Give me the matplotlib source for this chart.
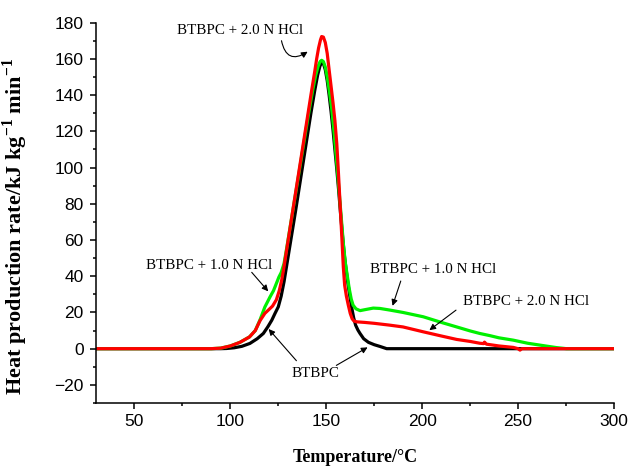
import matplotlib
matplotlib.use("Agg")
import matplotlib.pyplot as plt

# Temperature (degC) and heat production rate (kJ kg-1 min-1)
t_black = [30, 95, 98, 102, 106, 110.2, 114, 117.2, 119.5, 121.6, 123.3, 125, 126.5, 128, 130,
           132, 134, 136, 138, 140, 142, 144, 145.5, 146.7, 147.6, 148.5, 149.5, 150.5, 151.5,
           152.5, 153.5, 154.5, 155.5, 156.5, 157.5, 158.5, 159.5, 160.3, 161.3, 162.3, 163.3,
           164.3, 165.3, 166.5, 167.6, 169.5, 172, 175, 178.1, 181.5, 300]
v_black = [0, 0, 0.1, 0.5, 1.3, 2.9, 5.5, 8.4, 12, 15.7, 19.5, 23.1, 29, 37, 50,
           63, 76, 89.5, 103, 116.5, 130, 142.5, 151, 156, 158, 157.5, 154, 148, 140,
           131, 121, 110, 99, 87, 74, 62, 51, 44, 36, 29, 22.5,
           17, 13, 10.3, 8.4, 5.5, 3.5, 2.2, 1.2, 0, 0]

t_green = [30, 90, 95, 100, 105, 110, 113, 115.5, 118, 120.7, 122.5, 124, 125.3, 126.5, 128,
           129.3, 131, 133, 135, 137, 139, 141, 143, 144.5, 145.8, 146.8, 147.6, 148.5, 149.5,
           150.5, 151.5, 152.8, 154, 155, 156, 157, 158, 159, 160, 161, 162, 163, 164, 165.5,
           167.6, 170, 174.5, 178, 183.2, 190, 200.6, 210, 218, 225, 230, 235.3, 240,
           247.5, 255, 264.9, 270, 275.3, 300]
v_green = [0, 0, 0.3, 1.5, 3.5, 6.5, 10, 16, 23, 28.6, 32, 36, 39.5, 42, 47,
           55, 66, 79, 92, 105, 118, 131, 143, 151, 156, 158.5, 159.2, 158.5, 155.5,
           150, 143, 133, 120, 108, 96, 83, 70, 57, 47, 40, 33, 27.5, 24, 22,
           21, 21.5, 22.4, 22.2, 21.3, 20, 17.6, 14.5, 12, 9.8, 8.4, 7.2, 6,
           4.7, 3, 1.4, 0.6, 0, 0]

t_red = [30, 90, 95, 100, 105, 110, 113, 115.5, 118, 120, 122, 124, 125.5, 126.8, 127.8,
         130, 132, 134, 136, 138, 140, 142, 144, 145, 146, 147, 147.6, 148.5, 149.5, 150.5,
         151.6, 152.5, 153.5, 154.5, 155.5, 156.2, 157, 158, 158.9, 159.6, 160.5, 161.5,
         162.5, 163.5, 164.5, 166, 170, 175, 183, 190, 200.6, 210, 218, 225, 230, 232,
         232.5, 233.5, 240, 247.5, 250, 251, 252, 300]
v_red = [0, 0, 0.3, 1.5, 3.5, 6.5, 10, 15.5, 19.5, 21.5, 23.5, 27, 32, 38, 44,
         59, 72.5, 86, 99.5, 113, 126.5, 140, 153, 160, 166, 170.5, 172.3, 172, 169, 163,
         153, 145, 136, 126, 113, 100, 84, 64, 45, 35, 29, 24,
         19.5, 16.5, 15.2, 14.8, 14.5, 14, 13, 12, 9.3, 7, 5.1, 4, 3, 2.8,
         3.6, 2.5, 1.5, 0.7, 0, -0.8, 0, 0]

plt.rcParams['mathtext.fontset'] = 'custom'
plt.rcParams['mathtext.rm'] = 'Liberation Serif'
plt.rcParams['mathtext.bf'] = 'Liberation Serif:bold'

fig = plt.figure(figsize=(6.32, 4.67), dpi=100)
ax = fig.add_axes([0.152, 0.137, 0.8195, 0.8146])

lw = 2.3
ax.plot(t_black, v_black, color='black', lw=lw, solid_joinstyle='round')
ax.plot(t_green, v_green, color='#00f000', lw=lw, solid_joinstyle='round')
ax.plot(t_red, v_red, color='#ff0000', lw=lw, solid_joinstyle='round')

ax.set_xlim(30, 300)
ax.set_ylim(-30, 180)
ax.set_xticks([50, 100, 150, 200, 250, 300])
ax.set_xticks(range(75, 300, 50), minor=True)
ax.set_yticks(range(-20, 181, 20))
ax.set_yticks(range(-30, 181, 20), minor=True)
for s in ['top', 'right']:
    ax.spines[s].set_visible(False)
for s in ['left', 'bottom']:
    ax.spines[s].set_linewidth(1.1)
ax.tick_params(which='major', direction='out', length=4, width=1.1, labelsize=12.5)
ax.tick_params(axis='x', which='major', pad=4)
ax.tick_params(axis='y', which='major', pad=5)
ax.tick_params(which='minor', direction='out', length=2.5, width=1.1)
for lab in ax.get_xticklabels() + ax.get_yticklabels():
    lab.set_fontfamily('Liberation Sans')

ax.set_xlabel('Temperature/°C', fontfamily='Liberation Serif', fontweight='bold',
              fontsize=13)
ax.xaxis.set_label_coords(0.5, -0.12)
ax.set_ylabel(r'Heat production rate/kJ kg$^{\mathbf{-1}}$ min$^{\mathbf{-1}}$',
              fontfamily='Liberation Serif', fontweight='bold', fontsize=16)
ax.yaxis.set_label_coords(-0.127, 0.463)

tfont = dict(fontfamily='Liberation Serif', fontsize=10.8, ha='center', va='center')
arrow = dict(arrowstyle='-|>', color='black', lw=0.8, mutation_scale=9)

ax.text(105, 175.9, 'BTBPC + 2.0 N HCl', **tfont)
ax.annotate('', xy=(141.5, 164.8), xytext=(126.4, 171.5),
            arrowprops=dict(connectionstyle='arc3,rad=0.8', **arrow))

ax.text(89.2, 46.1, 'BTBPC + 1.0 N HCl', **tfont)
ax.annotate('', xy=(120.7, 30.5), xytext=(110.2, 43.3), arrowprops=arrow)

ax.text(144.4, -13.7, 'BTBPC', **tfont)
ax.annotate('', xy=(119, 12), xytext=(135.4, -7.8), arrowprops=arrow)
ax.annotate('', xy=(172.8, 1.5), xytext=(154, -10), arrowprops=arrow)

ax.text(205.6, 43.7, 'BTBPC + 1.0 N HCl', **tfont)
ax.annotate('', xy=(184.1, 22.2), xytext=(189.3, 38.8), arrowprops=arrow)

ax.text(254.4, 25.8, 'BTBPC + 2.0 N HCl', **tfont)
ax.annotate('', xy=(202.6, 9.3), xytext=(218.8, 22.2), arrowprops=arrow)

fig.savefig('out.png', dpi=100)
